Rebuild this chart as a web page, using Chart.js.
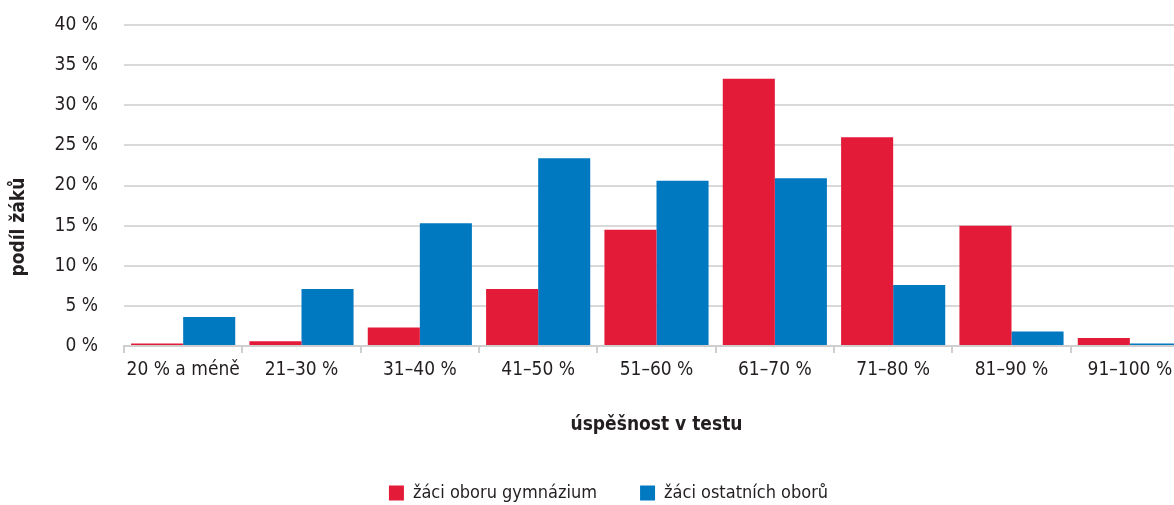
<!DOCTYPE html>
<html>
<head>
<meta charset="utf-8">
<script src="https://cdn.jsdelivr.net/npm/chart.js@4/dist/chart.umd.min.js"></script>
<style>
  body { margin: 0; background: #fff; overflow: hidden; }
</style>
</head>
<body>
<canvas id="chart" width="1190" height="512"></canvas>
<script>
  var categories = ["20 % a méně", "21–30 %", "31–40 %", "41–50 %", "51–60 %", "61–70 %", "71–80 %", "81–90 %", "91–100 %"];
  var gymnazium = [0.3, 0.6, 2.3, 7.1, 14.5, 33.3, 26.0, 15.0, 1.0];
  var ostatni = [3.6, 7.1, 15.3, 23.4, 20.6, 20.9, 7.6, 1.8, 0.3];
  var yTicks = [0, 5, 10, 15, 20, 25, 30, 35, 40];

  var fontFamily = "'Liberation Sans Narrow', 'DejaVu Sans Condensed', 'Arial Narrow', sans-serif";
  var textColor = "#231f20";

  // legend in the original sits a little right of the canvas centre
  var legendShift = {
    id: 'legendShift',
    afterUpdate: function(chart) {
      chart.legend.left += 14;
      chart.legend.right += 14;
    }
  };

  var context = document.getElementById("chart").getContext("2d");

  var myBarChart = new Chart(context, {
    type: 'bar',
    data: {
      labels: categories,
      datasets: [
        {
          label: "žáci oboru gymnázium        ",
          backgroundColor: "#e31a38",
          borderWidth: 0,
          data: gymnazium
        },
        {
          label: "žáci ostatních oborů",
          backgroundColor: "#0079c1",
          borderWidth: 0,
          data: ostatni
        }
      ]
    },
    plugins: [legendShift],
    options: {
      responsive: false,
      animation: false,
      devicePixelRatio: 1,
      layout: { padding: { top: 25, right: 1, left: 0, bottom: 0 } },
      plugins: {
        tooltip: { enabled: false },
        legend: {
          position: 'bottom',
          labels: {
            color: textColor,
            font: { family: fontFamily, size: 18 },
            boxWidth: 15,
            boxHeight: 15,
            padding: 2
          }
        }
      },
      datasets: {
        bar: { categoryPercentage: 0.88, barPercentage: 1.0 }
      },
      scales: {
        x: {
          grid: {
            drawOnChartArea: false,
            drawTicks: true,
            tickLength: 7,
            color: "#cfcfcf",
            lineWidth: 2
          },
          border: { display: true, color: "#cfcfcf", width: 2 },
          ticks: {
            color: textColor,
            font: { family: fontFamily, size: 19 },
            padding: 6,
            maxRotation: 0,
            autoSkip: false
          },
          title: {
            display: true,
            text: "úspěšnost v testu",
            color: textColor,
            font: { family: fontFamily, size: 19, weight: 'bold' },
            padding: { top: 18, bottom: 46 }
          },
          afterFit: function(scale) { scale.height = 136; }
        },
        y: {
          min: 0,
          max: 40,
          afterBuildTicks: function(scale) {
            scale.ticks = yTicks.map(function(v) { return { value: v }; });
          },
          grid: {
            color: "#d9d9d9",
            lineWidth: 2,
            drawTicks: false
          },
          border: { display: false },
          ticks: {
            color: textColor,
            font: { family: fontFamily, size: 19 },
            padding: 26,
            callback: function(v) { return v + " %"; }
          },
          title: {
            display: true,
            text: "podíl žáků              ",
            color: textColor,
            font: { family: fontFamily, size: 19, weight: 'bold' },
            padding: { top: 8, bottom: 0 }
          },
          afterFit: function(scale) {
            scale.width = 124;
            scale.paddingTop = 0;
            scale.paddingBottom = 0;
          }
        }
      }
    }
  });
</script>
</body>
</html>
